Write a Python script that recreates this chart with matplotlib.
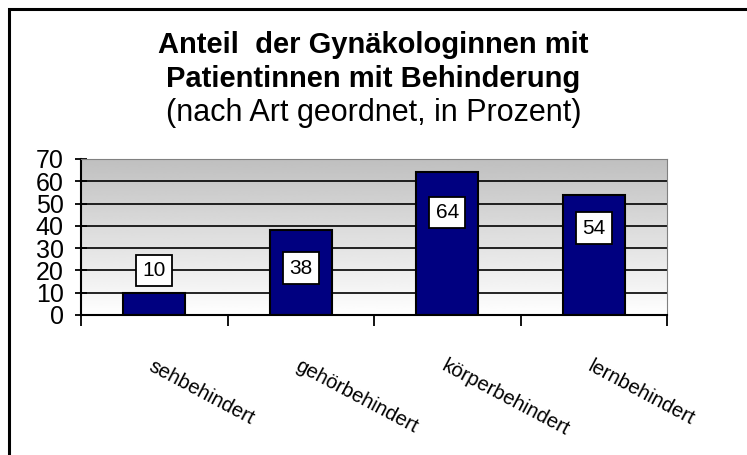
import numpy as np
import matplotlib
matplotlib.use('Agg')
import matplotlib.pyplot as plt
from matplotlib.patches import Rectangle

plt.rcParams['font.family'] = ['Liberation Sans', 'DejaVu Sans']

# Daten
kategorien = ['sehbehindert', 'gehörbehindert', 'körperbehindert', 'lernbehindert']
werte = [10, 38, 64, 54]
label_y = [20, 21, 46, 39]   # Lage der Wertebeschriftung
yticks = [0, 10, 20, 30, 40, 50, 60, 70]

fig = plt.figure(figsize=(7.47, 4.55), dpi=100)

# Rahmen (rechts/unten abgeschnitten wie im Original)
fig.patches.append(Rectangle((9/747, -0.1), 1.2, 1 - 9/455 + 0.1, transform=fig.transFigure,
                             fill=False, edgecolor='black', linewidth=2.2))

fig.text(0.5, 1 - 45/455, 'Anteil  der Gynäkologinnen mit', ha='center', va='center',
         fontsize=21, fontweight='bold')
fig.text(0.5, 1 - 79/455, 'Patientinnen mit Behinderung', ha='center', va='center',
         fontsize=21, fontweight='bold')
fig.text(0.5, 1 - 113/455, '(nach Art geordnet, in Prozent)', ha='center', va='center',
         fontsize=22)

ax = fig.add_axes([81/747, 1 - 315/455, (667 - 81)/747, (315 - 159)/455])

x = np.arange(1, len(werte) + 1)

# Hintergrund mit Verlauf (oben grau, unten weiss)
grad = np.linspace(1.0, 0.75, 256).reshape(-1, 1)
ax.imshow(grad, cmap='gray', vmin=0, vmax=1, aspect='auto', origin='lower',
          extent=(0.5, 4.5, 0, 70), zorder=0)

for yv in yticks[1:-1]:
    ax.axhline(yv, color='black', linewidth=1.2, zorder=1)

ax.bar(x, werte, width=0.42, color='#000080', edgecolor='black', linewidth=1.5, zorder=2)

for xi, v, ly in zip(x, werte, label_y):
    ax.text(xi, ly, str(v), ha='center', va='center', fontsize=15, zorder=3,
            bbox=dict(boxstyle='square,pad=0.3', facecolor='white', edgecolor='black', linewidth=1.3))

ax.set_xlim(0.5, 4.5)
ax.set_ylim(0, 70)
ax.set_yticks(yticks)
ax.tick_params(axis='y', labelsize=18, length=9, width=1.3, pad=8, direction='inout')

ax.set_xticks(np.arange(0.5, 4.6, 1.0))
ax.set_xticklabels([])
ax.tick_params(axis='x', which='major', length=8, width=1.3, direction='out')
ax.set_xticks(x, minor=True)
ax.set_xticklabels(kategorien, minor=True, rotation=-28, ha='left', va='top',
                   rotation_mode='anchor', fontsize=14.5)
ax.tick_params(axis='x', which='minor', length=0, pad=30)

ax.spines['left'].set_linewidth(1.5)
ax.spines['bottom'].set_linewidth(1.5)
ax.spines['top'].set_color('#808080')
ax.spines['right'].set_color('#808080')

fig.savefig('out.png', dpi=100)
